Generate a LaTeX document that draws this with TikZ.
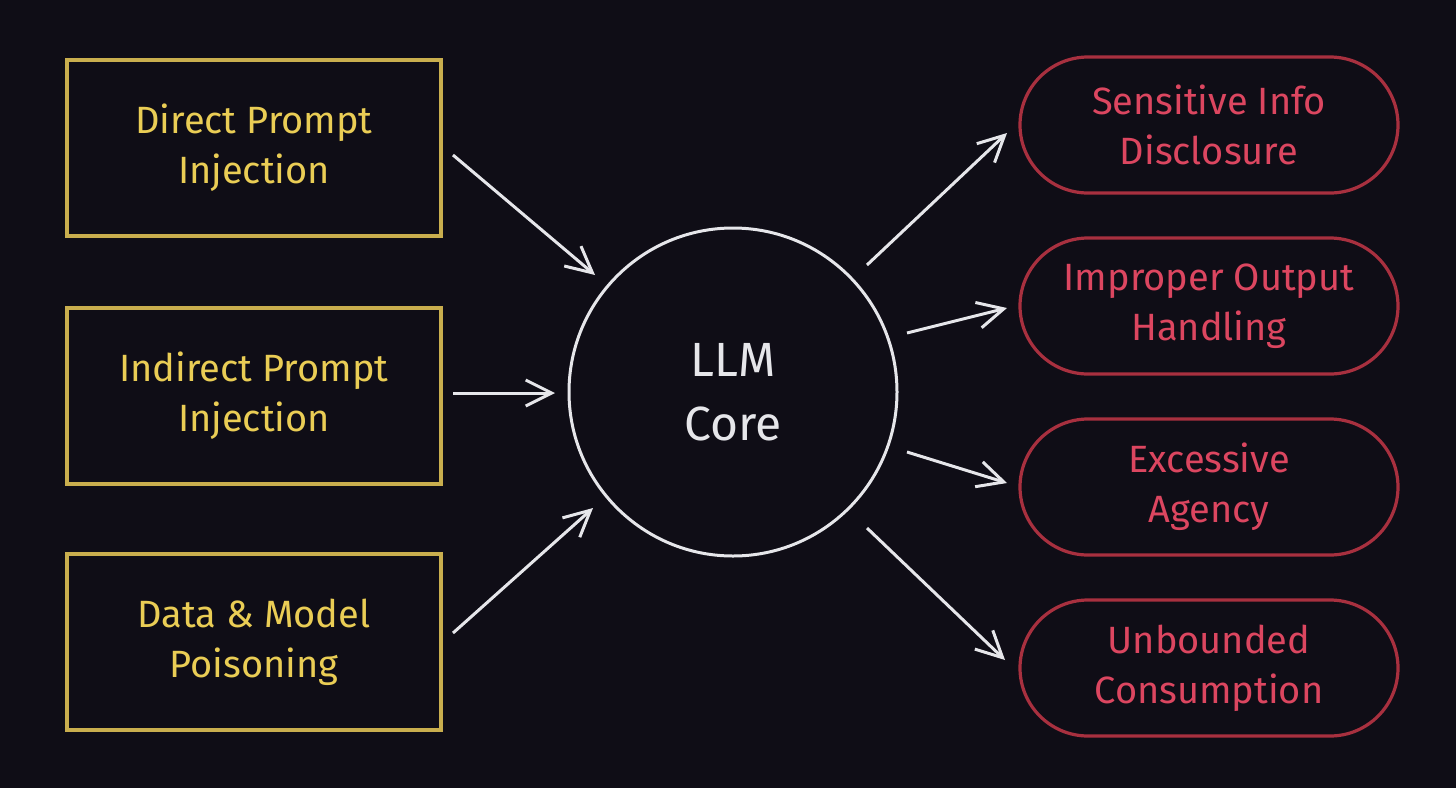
\documentclass[tikz,border=0pt]{standalone}
\usepackage{fontspec}
\setmainfont{Fira Sans}
\usetikzlibrary{arrows.meta}
\definecolor{bg}{HTML}{0F0D16}
\definecolor{yel}{HTML}{EACD55}
\definecolor{ybord}{HTML}{C9AE4E}
\definecolor{redt}{HTML}{DC4660}
\definecolor{rbord}{HTML}{A8303F}
\definecolor{wht}{HTML}{E6E6EA}
\begin{document}
\begin{tikzpicture}[x=0.5pt,y=-0.5pt,
  inbox/.style={draw=ybord,line width=1.6pt,minimum width=187pt,minimum height=88pt,text=yel,align=center,font=\fontsize{19}{25}\selectfont,inner sep=0pt},
  outbox/.style={draw=rbord,line width=1.6pt,rounded corners=34pt,minimum width=189pt,minimum height=68pt,text=redt,align=center,font=\fontsize{19}{25}\selectfont,inner sep=0pt},
  arr/.style={draw=wht,line width=1.5pt,-{Straight Barb[length=13pt,width=13pt,line width=1.5pt]}}]
\fill[bg] (0,0) rectangle (1456,788);
\node[inbox] (a) at (254,148) {Direct Prompt\\Injection};
\node[inbox] (b) at (254,396) {Indirect Prompt\\Injection};
\node[inbox] (c) at (254,642) {Data \& Model\\Poisoning};
\node[circle,draw=wht,line width=1.5pt,minimum size=164pt,text=wht,align=center,font=\fontsize{24}{32}\selectfont] (llm) at (733,392) {LLM\\Core};
\node[outbox] (o1) at (1209,125) {Sensitive Info\\Disclosure};
\node[outbox] (o2) at (1209,306) {Improper Output\\Handling};
\node[outbox] (o3) at (1209,487) {Excessive\\Agency};
\node[outbox] (o4) at (1209,668) {Unbounded\\Consumption};
\coordinate (a1) at (453,155); \coordinate (a2) at (595,275);
\coordinate (b1) at (453,393); \coordinate (b2) at (555,393);
\coordinate (c1) at (453,633); \coordinate (c2) at (593,508);
\coordinate (p1) at (867,265); \coordinate (q1) at (1007,133);
\coordinate (p2) at (907,333); \coordinate (q2) at (1007,308);
\coordinate (p3) at (907,452); \coordinate (q3) at (1007,483);
\coordinate (p4) at (867,528); \coordinate (q4) at (1005,660);
\draw[arr] (a1) -- (a2);
\draw[arr] (b1) -- (b2);
\draw[arr] (c1) -- (c2);
\draw[arr] (p1) -- (q1);
\draw[arr] (p2) -- (q2);
\draw[arr] (p3) -- (q3);
\draw[arr] (p4) -- (q4);
\end{tikzpicture}
\end{document}
